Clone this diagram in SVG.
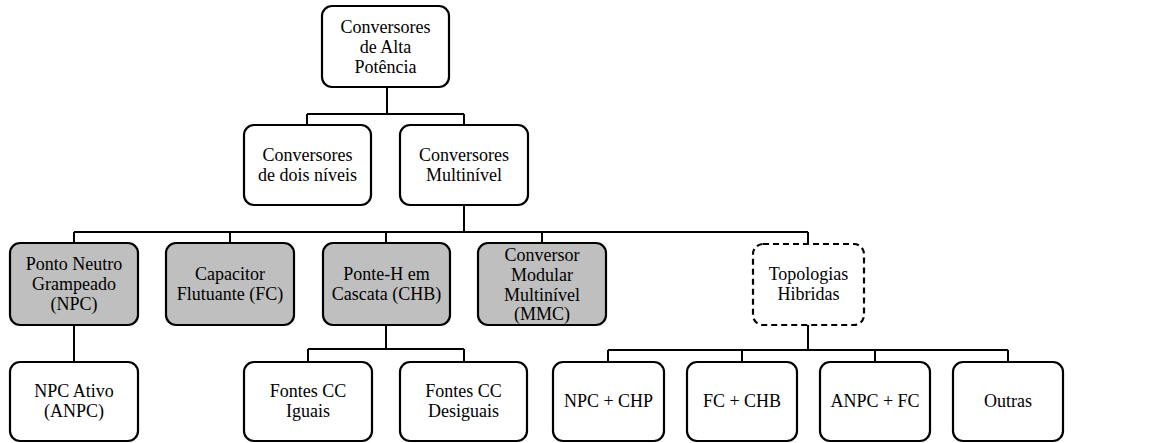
<svg xmlns="http://www.w3.org/2000/svg" width="1150" height="443" viewBox="0 0 1150 443" font-family="Liberation Serif, serif" font-size="18">
<style>
.box{fill:#ffffff;stroke:#000;stroke-width:2.2}
.gray{fill:#bfbfbf}
.dash{stroke-dasharray:6 4}
text{font-family:'Liberation Serif',serif;font-size:18px;fill:#000;text-anchor:middle}
.con{fill:none;stroke:#000;stroke-width:2}
</style>
<rect width="1150" height="443" fill="#ffffff"/>
<g id="connectors">
<path class="con" d="M387 87V114M307 114H464M307 114V125M464 114V125"/>
<path class="con" d="M464 205V232M74 232H808M74 232V243M230 232V243M386 232V243M542 232V243M808 232V244"/>
<path class="con" d="M74 325V362"/>
<path class="con" d="M386 325V349M308 349H464M308 349V362M464 349V362"/>
<path class="con" d="M808 325V350M608 350H1008M608 350V362M742 350V362M875 350V362M1008 350V362"/>
</g>
<g id="n-top"><rect class="box" x="322" y="6" width="127" height="81" rx="10"/><text x="385.5" y="32.5">Conversores</text><text x="385.5" y="52.5">de Alta</text><text x="385.5" y="72.5">Potência</text></g>
<g id="n-dois"><rect class="box" x="244" y="125" width="127" height="80" rx="10"/><text x="307.5" y="161">Conversores</text><text x="307.5" y="181">de dois níveis</text></g>
<g id="n-multi"><rect class="box" x="400" y="125" width="128" height="80" rx="10"/><text x="464" y="161">Conversores</text><text x="464" y="181">Multinível</text></g>
<g id="n-npc"><rect class="box gray" x="10" y="243" width="128" height="82" rx="10"/><text x="74" y="270">Ponto Neutro</text><text x="74" y="290">Grampeado</text><text x="74" y="310">(NPC)</text></g>
<g id="n-fc"><rect class="box gray" x="166" y="243" width="128" height="82" rx="10"/><text x="230" y="280">Capacitor</text><text x="230" y="300">Flutuante (FC)</text></g>
<g id="n-chb"><rect class="box gray" x="323" y="243" width="127" height="82" rx="10"/><text x="386.5" y="280">Ponte-H em</text><text x="386.5" y="300">Cascata (CHB)</text></g>
<g id="n-mmc"><rect class="box gray" x="478" y="243" width="128" height="82" rx="10"/><text x="542" y="261">Conversor</text><text x="542" y="281">Modular</text><text x="542" y="301">Multinível</text><text x="542" y="320">(MMC)</text></g>
<g id="n-hib"><rect class="box dash" x="753" y="244" width="111" height="81" rx="10"/><text x="808.5" y="280">Topologias</text><text x="808.5" y="300">Hibridas</text></g>
<g id="n-anpc"><rect class="box" x="10" y="362" width="128" height="79" rx="10"/><text x="74" y="397">NPC Ativo</text><text x="74" y="417">(ANPC)</text></g>
<g id="n-iguais"><rect class="box" x="244" y="362" width="128" height="79" rx="10"/><text x="308" y="397">Fontes CC</text><text x="308" y="417">Iguais</text></g>
<g id="n-desiguais"><rect class="box" x="400" y="362" width="127" height="79" rx="10"/><text x="463.5" y="397">Fontes CC</text><text x="463.5" y="417">Desiguais</text></g>
<g id="n-npcchp"><rect class="box" x="553" y="362" width="111" height="79" rx="10"/><text x="608.5" y="407">NPC + CHP</text></g>
<g id="n-fcchb"><rect class="box" x="687" y="362" width="110" height="79" rx="10"/><text x="742" y="407">FC + CHB</text></g>
<g id="n-anpcfc"><rect class="box" x="820" y="362" width="110" height="79" rx="10"/><text x="875" y="407">ANPC + FC</text></g>
<g id="n-outras"><rect class="box" x="953" y="362" width="110" height="79" rx="10"/><text x="1008" y="407">Outras</text></g>
</svg>
